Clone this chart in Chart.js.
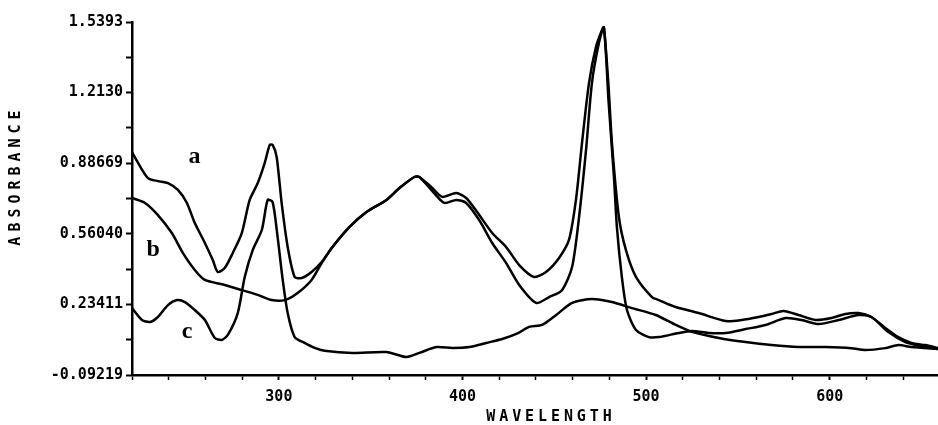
<!DOCTYPE html>
<html>
<head>
<meta charset="utf-8">
<script src="https://cdn.jsdelivr.net/npm/chart.js@4.4.1/dist/chart.umd.min.js"></script>
<style>
  html, body { margin: 0; padding: 0; background: #fff; }
  #wrap { width: 938px; height: 425px; }
</style>
</head>
<body>
<div id="wrap"><canvas id="chart" width="938" height="425"></canvas></div>
<script>
// Spectra a, b, c (wavelength nm, absorbance)
const aX = [220, 223.3, 228.7, 234.1, 239.6, 245, 249.9, 254.2, 259.7, 264, 266.7, 270.5, 274.9, 279.8, 284.1, 288.5, 292.3, 295, 296.6, 298.8, 301.5, 304.8, 308.6, 312.4, 317.8, 323.3, 329.2, 338.5, 347.7, 358.6, 365.7, 373.8, 376.5, 383.6, 389, 396.6, 402, 408, 416.2, 423.8, 430.9, 439, 445.5, 452.6, 458, 461.8, 465.1, 468.9, 472.7, 476, 477, 479.5, 481.4, 485.2, 489, 494.5, 503.2, 507, 516.2, 528.7, 543.4, 552.1, 561.3, 568.4, 574.9, 583, 592.3, 601, 608.6, 615.7, 622.7, 630.3, 637.4, 644.5, 652, 659];
const aY = [0.938, 0.888, 0.818, 0.804, 0.795, 0.763, 0.703, 0.610, 0.518, 0.439, 0.384, 0.402, 0.472, 0.564, 0.717, 0.795, 0.888, 0.971, 0.971, 0.915, 0.703, 0.499, 0.361, 0.356, 0.384, 0.430, 0.499, 0.592, 0.661, 0.717, 0.772, 0.823, 0.823, 0.772, 0.731, 0.749, 0.726, 0.661, 0.564, 0.499, 0.416, 0.361, 0.384, 0.449, 0.532, 0.717, 0.980, 1.257, 1.424, 1.502, 1.515, 1.25, 0.980, 0.638, 0.486, 0.361, 0.268, 0.254, 0.222, 0.194, 0.157, 0.162, 0.176, 0.190, 0.204, 0.185, 0.162, 0.171, 0.190, 0.194, 0.176, 0.125, 0.083, 0.056, 0.046, 0.033];

const bX = [220, 227.1, 234.1, 241.7, 247.7, 254.2, 259.7, 270.5, 279.8, 288.5, 296.1, 303.2, 310.2, 317.8, 323.3, 329.2, 338.5, 347.7, 358.6, 365.7, 373.8, 376.5, 383.6, 390.1, 396.6, 402, 409.1, 416.2, 423.8, 430.9, 440.1, 447.2, 454.2, 459.7, 463.5, 467.3, 470.5, 474.3, 477, 479.5, 482.5, 484.1, 486.8, 489.6, 494.5, 501.5, 507, 517.8, 524.9, 534.1, 543.4, 554.2, 565.1, 576, 584.7, 593.9, 604.8, 615.7, 622.7, 632, 641.2, 649.9, 659];
const bY = [0.726, 0.703, 0.647, 0.564, 0.472, 0.393, 0.347, 0.324, 0.300, 0.278, 0.254, 0.254, 0.287, 0.347, 0.425, 0.499, 0.592, 0.661, 0.717, 0.772, 0.823, 0.823, 0.758, 0.703, 0.717, 0.703, 0.624, 0.518, 0.425, 0.324, 0.241, 0.268, 0.300, 0.407, 0.638, 0.948, 1.257, 1.442, 1.515, 1.18, 0.823, 0.592, 0.361, 0.208, 0.116, 0.083, 0.083, 0.102, 0.111, 0.102, 0.102, 0.120, 0.139, 0.171, 0.162, 0.143, 0.162, 0.185, 0.176, 0.106, 0.060, 0.042, 0.028];

const cX = [220, 225.4, 229.8, 234.1, 239.6, 244.5, 248.8, 254.2, 259.7, 265.1, 268.9, 272.2, 277.6, 281.4, 285.8, 290.7, 293.9, 296.6, 299.3, 302.1, 304.8, 308.6, 314, 319.5, 324.9, 340.1, 358.6, 369.5, 376.5, 385.8, 394.5, 403.7, 412.9, 421.6, 430, 436.3, 443.4, 451, 459.7, 470.5, 481.4, 492.3, 505.3, 516.2, 524.9, 539.6, 554.2, 568.4, 583, 597.7, 611.8, 619.5, 630.3, 637.4, 644.5, 659];
const cY = [0.217, 0.162, 0.153, 0.176, 0.231, 0.254, 0.245, 0.208, 0.162, 0.079, 0.070, 0.093, 0.194, 0.361, 0.486, 0.578, 0.717, 0.707, 0.546, 0.347, 0.194, 0.083, 0.056, 0.033, 0.020, 0.010, 0.014, -0.009, 0.010, 0.037, 0.033, 0.037, 0.056, 0.074, 0.100, 0.130, 0.139, 0.185, 0.241, 0.259, 0.245, 0.217, 0.185, 0.139, 0.107, 0.079, 0.060, 0.046, 0.037, 0.037, 0.032, 0.023, 0.032, 0.046, 0.037, 0.028];

// axis ticks
const yTickValues = [-0.09219, 0.23411, 0.56040, 0.88669, 1.2130, 1.5393];
const yTickLabels = ['-0.09219', '0.23411', '0.56040', '0.88669', '1.2130', '1.5393'];
const xTickValues = [220, 240, 260, 280, 300, 320, 340, 360, 380, 400, 420, 440, 460, 480, 500, 520, 540, 560, 580, 600, 620, 640];
const xTickLabels = ['300', '400', '500', '600'];

// curve letters, placed in data coordinates
const curveNames = ['a', 'b', 'c'];
const curveNameX = [254, 231.5, 250];
const curveNameY = [0.925, 0.495, 0.116];

const toPoints = (xs, ys) => xs.map((x, i) => ({ x: x, y: ys[i] }));

const yMinor = [];
for (let i = 0; i < yTickValues.length - 1; i++) {
    yMinor.push((yTickValues[i] + yTickValues[i + 1]) / 2);
}

const monoFont = { family: 'DejaVu Sans Mono', size: 15, weight: 'bold' };

const textPlugin = {
    id: 'texts',
    afterDraw(chart) {
        const ctx = chart.ctx;
        const xs = chart.scales.x;
        const ys = chart.scales.y;
        ctx.save();
        ctx.fillStyle = '#000';

        // curve letters
        ctx.font = 'bold 24px "Liberation Serif"';
        ctx.textAlign = 'center';
        ctx.textBaseline = 'alphabetic';
        curveNames.forEach((n, i) => {
            ctx.fillText(n, xs.getPixelForValue(curveNameX[i]), ys.getPixelForValue(curveNameY[i]) + 8);
        });

        // axis titles, letter spaced
        ctx.font = 'bold 15px "DejaVu Sans Mono"';
        ctx.textAlign = 'left';
        ctx.textBaseline = 'middle';
        ctx.letterSpacing = '3.9px';
        let t = 'WAVELENGTH';
        let w = ctx.measureText(t).width - 3.9;
        ctx.fillText(t, 549 - w / 2, 417);

        ctx.letterSpacing = '5px';
        t = 'ABSORBANCE';
        w = ctx.measureText(t).width - 5;
        ctx.translate(16, 178);
        ctx.rotate(-Math.PI / 2);
        ctx.fillText(t, -w / 2, 0);
        ctx.restore();
    }
};

const ctx = document.getElementById('chart').getContext('2d');
new Chart(ctx, {
    type: 'line',
    data: {
        datasets: [
            { label: 'a', data: toPoints(aX, aY) },
            { label: 'b', data: toPoints(bX, bY) },
            { label: 'c', data: toPoints(cX, cY) }
        ]
    },
    options: {
        responsive: false,
        animation: false,
        layout: { padding: { top: 22, right: 0, left: 0, bottom: 0 } },
        elements: {
            line: { borderColor: '#000', borderWidth: 2.5, tension: 0.25, fill: false },
            point: { radius: 0 }
        },
        plugins: {
            legend: { display: false },
            tooltip: { enabled: false }
        },
        scales: {
            x: {
                type: 'linear',
                min: 220,
                max: 659,
                afterBuildTicks: (scale) => {
                    scale.ticks = xTickValues.map(v => ({ value: v }));
                },
                afterFit: (scale) => { scale.height = 50; },
                ticks: {
                    autoSkip: false,
                    maxRotation: 0,
                    color: '#000',
                    font: monoFont,
                    padding: 8,
                    callback: (v) => xTickLabels.includes(String(v)) ? String(v) : ''
                },
                grid: {
                    drawOnChartArea: false,
                    tickLength: 5,
                    tickColor: '#000',
                    tickWidth: (c) => (c.tick && c.tick.value % 100 === 0) ? 2 : 1.5
                },
                border: { color: '#000', width: 2.5 }
            },
            y: {
                min: -0.09219,
                max: 1.5393,
                afterBuildTicks: (scale) => {
                    scale.ticks = yTickValues.concat(yMinor).sort((p, q) => p - q).map(v => ({ value: v }));
                },
                afterFit: (scale) => { scale.width = 132; },
                ticks: {
                    autoSkip: false,
                    color: '#000',
                    font: monoFont,
                    padding: 3,
                    callback: (v) => {
                        const i = yTickValues.findIndex(t => Math.abs(t - v) < 1e-6);
                        return i >= 0 ? yTickLabels[i] : '';
                    }
                },
                grid: {
                    drawOnChartArea: false,
                    tickLength: 6,
                    tickColor: '#000',
                    tickWidth: 2
                },
                border: { color: '#000', width: 2.5 }
            }
        }
    },
    plugins: [textPlugin]
});
</script>
</body>
</html>
